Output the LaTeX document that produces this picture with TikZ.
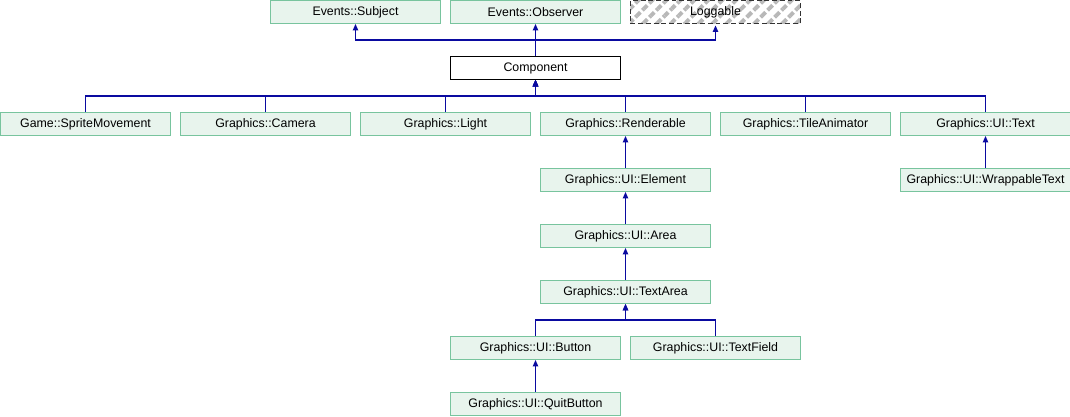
\documentclass[tikz,border=0pt]{standalone}
\usepackage{fontspec}
\setmainfont{Liberation Sans}
\usetikzlibrary{arrows.meta,patterns.meta}
\definecolor{clsfill}{RGB}{232,244,237}
\definecolor{clsline}{RGB}{120,196,158}
\definecolor{edgeblue}{RGB}{10,10,160}
\begin{document}
\begin{tikzpicture}[x=0.025cm,y=-0.025cm,font=\fontsize{8.8}{10}\selectfont,
  cls/.style={draw=clsline,fill=clsfill,line width=0.7pt,minimum width=4.25cm,minimum height=0.575cm,inner sep=0pt},
  ext/.style={draw=black!80,dash pattern=on 3.5pt off 2pt,line width=0.7pt,pattern={Lines[angle=45,distance=7pt,line width=2.8pt]},pattern color=black!28,minimum width=4.25cm,minimum height=0.575cm,inner sep=0pt},
  inh/.style={draw=edgeblue,line width=0.75pt,-{Triangle[length=4.5pt,width=3.8pt]}}]
\useasboundingbox (-0.5,-0.5) rectangle (1069.5,415.5);
% top row
\node[cls] (subject) at (355,11.5) {Events::Subject};
\node[cls] (observer) at (535,11.5) {Events::Observer};
\node[ext] (loggable) at (715,11.5) {Loggable};
\node[draw=black,fill=white,line width=0.7pt,minimum width=4.25cm,minimum height=0.575cm,inner sep=0pt] (comp) at (535,67.5) {Component};
% derived from Component
\node[cls] (sprite) at (85,123.5) {Game::SpriteMovement};
\node[cls] (camera) at (265,123.5) {Graphics::Camera};
\node[cls] (light) at (445,123.5) {Graphics::Light};
\node[cls] (render) at (625,123.5) {Graphics::Renderable};
\node[cls] (tileanim) at (805,123.5) {Graphics::TileAnimator};
\node[cls] (uitext) at (985,123.5) {Graphics::UI::Text};
\node[cls] (wraptext) at (985,179.5) {Graphics::UI::WrappableText};
% UI chain
\node[cls] (element) at (625,179.5) {Graphics::UI::Element};
\node[cls] (area) at (625,235.5) {Graphics::UI::Area};
\node[cls] (textarea) at (625,291.5) {Graphics::UI::TextArea};
\node[cls] (button) at (535,347.5) {Graphics::UI::Button};
\node[cls] (textfield) at (715,347.5) {Graphics::UI::TextField};
\node[cls] (quit) at (535,403.5) {Graphics::UI::QuitButton};
% edges
\foreach \p in {subject,observer,loggable}
  \draw[inh] (comp.north) -- ++(0,-16) -| (\p.south);
\foreach \c in {sprite,camera,light,render,tileanim,uitext}
  \draw[inh] (\c.north) -- ++(0,-16) -| (comp.south);
\draw[inh] (wraptext) -- (uitext);
\draw[inh] (element) -- (render);
\draw[inh] (area) -- (element);
\draw[inh] (textarea) -- (area);
\foreach \c in {button,textfield}
  \draw[inh] (\c.north) -- ++(0,-16) -| (textarea.south);
\draw[inh] (quit) -- (button);
\end{tikzpicture}
\end{document}
